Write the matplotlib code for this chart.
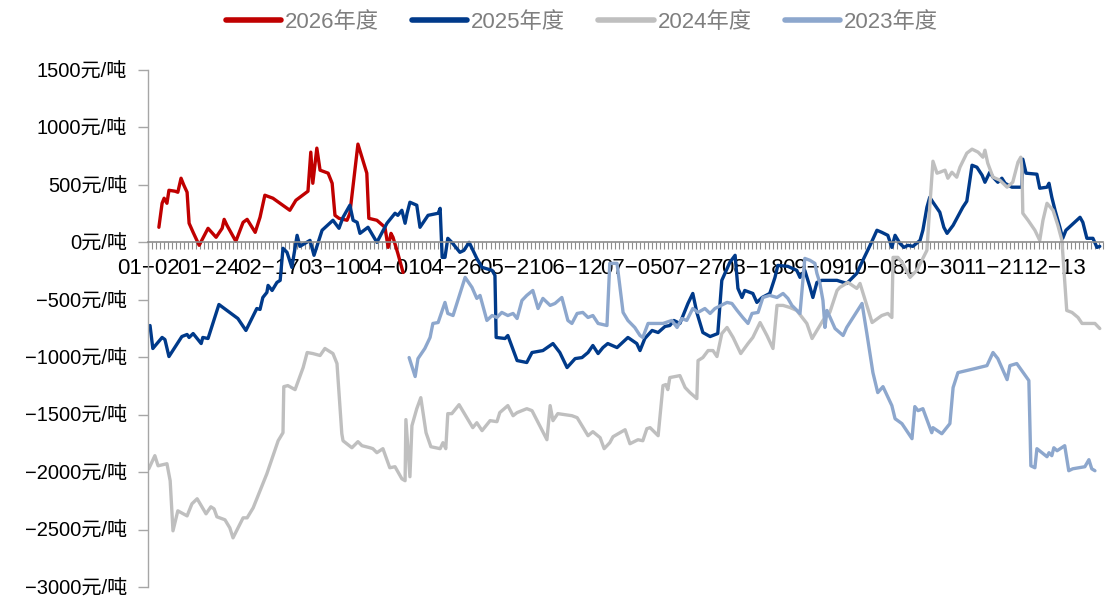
import matplotlib
matplotlib.use("Agg")
import matplotlib.pyplot as plt

# x positions are trading-day indices (0 = 01-02); values in 元/吨
tick_labels = ["01-02", "01-24", "02-17", "03-10", "04-01", "04-26", "05-21", "06-12",
               "07-05", "07-27", "08-18", "09-09", "10-08", "10-30", "11-21", "12-13"]
tick_step = 15
n_days = 238

series_names = ["2026年度", "2025年度", "2024年度", "2023年度"]

s2026 = [(2.7,131),(3.5,340),(4.0,384),(4.7,340),(5.2,453),(6.7,445),(7.4,436),(8.2,558),(8.9,497),
         (9.7,436),(10.2,166),(11.2,87),(12.7,-26),(14.9,122),(16.9,44),(18.4,122),(18.9,200),(19.6,148),
         (21.8,9),(23.6,174),(24.6,200),(26.6,87),(27.8,218),(29.0,410),(31.0,384),(35.2,279),(36.7,366),
         (39.7,445),(40.4,785),(40.9,514),(41.9,820),(42.7,628),(44.7,602),(45.7,514),(46.4,235),(47.4,209),
         (49.4,192),(50.1,253),(52.1,855),(54.3,602),(54.8,209),(56.8,192),(58.8,131),(59.6,-44),(60.3,78),
         (60.8,44),(62.0,-96),(63.3,-262)]

s2025 = [(0.5,-724),(1.2,-924),(3.5,-828),(4.2,-846),(5.2,-994),(8.4,-820),(9.7,-802),(10.2,-828),(11.2,-794),
         (13.2,-881),(13.6,-828),(14.9,-837),(17.6,-541),(22.3,-663),(24.3,-767),(27.0,-576),(27.8,-584),
         (28.5,-480),(29.5,-436),(29.8,-375),(30.8,-419),(32.0,-349),(32.8,-331),(33.5,-52),(34.5,-87),
         (35.7,-218),(37.0,61),(37.7,-35),(40.2,17),(41.2,-113),(43.2,105),(45.9,192),(47.4,122),(48.4,218),
         (50.1,323),(50.9,192),(51.9,174),(52.6,78),(54.6,131),(56.8,0),(59.3,166),(61.3,253),(62.0,235),
         (63.0,279),(63.8,166),(64.3,253),(65.0,349),(66.7,323),(67.5,131),(69.5,235),(72.0,253),(72.5,296),
         (73.0,-131),(73.7,-131),(74.4,35),(75.4,0),(77.4,-87),(78.4,-70),(79.7,0),(81.6,-140),(82.9,-218),
         (85.4,-244),(86.1,-288),(86.4,-828),(88.6,-837),(89.3,-811),(91.6,-1029),(94.0,-1046),(95.3,-959),
         (98.0,-942),(100.5,-881),(102.2,-959),(104.0,-1090),(106.0,-1012),(107.7,-1003),(109.2,-959),
         (110.4,-898),(111.7,-968),(112.9,-916),(114.1,-881),(116.4,-916),(119.1,-828),(121.3,-881),
         (122.1,-942),(123.3,-837),(125.1,-767),(126.6,-785),(128.3,-732),(129.5,-724),(130.5,-680),
         (132.0,-706),(134.0,-532),(135.2,-445),(136.2,-610),(137.7,-785),(139.5,-820),(141.4,-794),
         (142.4,-331),(144.4,-174),(145.7,-113),(146.4,-401),(147.4,-480),(148.1,-419),(150.1,-445),
         (151.1,-523),(152.4,-480),(154.3,-445),(155.6,-305),(156.3,-201),(158.8,-209),(161.0,-244),
         (161.8,-305),(163.0,-244),(164.3,-392),(165.0,-480),(166.0,-349),(167.2,-331),(169.2,-331),
         (171.0,-331),(173.4,-358),(175.9,-270),(177.4,-157),(179.2,-26),(180.9,105),(182.1,87),(183.6,61),
         (184.6,-44),(185.4,61),(186.6,-9),(187.6,-44),(188.6,-26),(189.8,-35),(191.6,17),(192.3,105),
         (193.3,305),(194.0,392),(194.8,349),(196.5,262),(197.5,131),(198.3,78),(199.8,148),(202.2,305),
         (203.2,358),(204.5,671),(205.7,654),(207.0,584),(207.7,523),(208.9,610),(209.7,567),(210.9,523),
         (211.9,558),(212.7,514),(214.4,480),(216.9,480),(217.1,724),(217.9,602),(220.6,593),(221.3,471),
         (223.1,480),(223.6,514),(224.3,392),(225.1,279),(226.3,131),(227.0,35),(227.8,105),(231.3,218),
         (232.0,174),(233.0,35),(234.5,35),(235.5,-44),(236.2,-35)]

s2024 = [(0.2,-1971),(1.7,-1857),(2.5,-1945),(4.7,-1927),(5.5,-2075),(6.2,-2511),(7.4,-2337),(9.7,-2381),
         (10.9,-2276),(12.2,-2232),(14.4,-2363),(15.6,-2302),(16.4,-2320),(17.1,-2389),(19.1,-2415),
         (20.3,-2485),(21.1,-2572),(23.6,-2398),(24.6,-2398),(26.1,-2311),(29.5,-2014),(32.3,-1727),
         (33.5,-1657),(33.7,-1256),(34.7,-1247),(36.5,-1282),(38.5,-1090),(39.5,-959),(40.9,-968),(42.7,-985),
         (43.9,-924),(45.9,-968),(46.9,-1055),(48.1,-1666),(48.4,-1727),(50.6,-1788),(52.1,-1735),(53.1,-1770),
         (55.1,-1788),(55.8,-1796),(56.8,-1831),(58.3,-1796),(60.0,-1962),(61.3,-1953),(63.0,-2058),
         (63.8,-2075),(64.0,-1543),(65.0,-2040),(65.5,-1596),(66.7,-1448),(67.7,-1352),(69.0,-1657),
         (70.2,-1779),(72.5,-1796),(73.2,-1744),(73.9,-1796),(74.4,-1491),(75.4,-1491),(77.2,-1413),
         (80.6,-1613),(81.6,-1570),(82.9,-1639),(84.9,-1552),(86.6,-1561),(87.3,-1482),(89.3,-1421),
         (90.6,-1509),(91.6,-1482),(94.0,-1448),(95.3,-1465),(99.0,-1718),(99.8,-1421),(100.5,-1552),
         (101.7,-1491),(105.2,-1509),(106.5,-1526),(109.2,-1683),(110.4,-1648),(112.2,-1700),(113.2,-1796),
         (114.6,-1744),(115.4,-1692),(118.4,-1631),(119.6,-1753),(121.6,-1718),(122.8,-1727),(123.8,-1622),
         (124.6,-1613),(126.6,-1683),(127.8,-1247),(128.5,-1238),(129.0,-1282),(129.5,-1177),(132.0,-1160),
         (133.3,-1264),(134.5,-1308),(136.2,-1360),(136.5,-1029),(137.7,-1003),(139.0,-942),(140.2,-942),
         (141.2,-994),(142.4,-794),(143.7,-741),(145.2,-828),(147.1,-968),(148.9,-881),(150.1,-828),
         (151.9,-698),(153.6,-811),(155.1,-924),(156.1,-549),(157.6,-549),(159.3,-567),(161.0,-593),
         (163.5,-706),(164.8,-837),(166.0,-767),(167.5,-680),(169.2,-610),(171.0,-419),(171.7,-392),
         (173.7,-349),(175.9,-401),(176.7,-358),(178.4,-549),(179.7,-698),(180.4,-680),(182.1,-637),
         (183.6,-619),(184.6,-654),(184.9,-131),(186.1,-131),(187.3,-183),(189.1,-305),(190.8,-244),
         (192.3,-140),(193.3,-70),(194.0,305),(194.8,706),(195.8,602),(196.5,610),(197.8,628),(198.5,558),
         (199.5,610),(200.7,567),(201.5,654),(203.2,776),(204.5,811),(206.0,785),(207.2,741),(207.7,802),
         (208.4,689),(209.7,567),(211.4,541),(213.2,480),(214.6,523),(215.9,698),(216.6,741),(216.9,628),
         (217.1,253),(218.4,192),(220.1,105),(221.3,17),(222.1,192),(223.1,340),(224.6,279),(225.8,148),
         (226.8,17),(227.5,-331),(228.0,-593),(229.3,-610),(230.8,-654),(231.8,-706),(233.3,-706),
         (235.0,-706),(236.2,-750)]

s2023 = [(64.8,-1003),(66.3,-1168),(67.0,-1012),(68.7,-924),(70.0,-828),(70.7,-706),(72.0,-698),(73.7,-523),
         (74.4,-619),(75.7,-637),(78.7,-305),(80.4,-392),(81.6,-488),(82.4,-462),(84.1,-680),(85.4,-637),
         (86.6,-654),(87.8,-610),(89.3,-637),(90.6,-619),(91.6,-663),(92.8,-506),(94.0,-462),(95.5,-419),
         (96.8,-576),(98.0,-488),(99.8,-549),(101.0,-532),(102.7,-480),(104.2,-680),(105.2,-706),(106.5,-619),
         (107.9,-610),(109.2,-654),(110.4,-637),(111.7,-706),(113.9,-724),(114.6,-183),(115.4,-183),
         (116.4,-183),(117.9,-610),(119.1,-680),(120.8,-741),(122.1,-811),(122.8,-828),(124.1,-706),
         (126.3,-706),(127.8,-706),(130.0,-680),(131.3,-741),(132.5,-663),(133.7,-680),(135.2,-576),
         (136.5,-610),(138.2,-576),(139.5,-619),(140.7,-576),(143.7,-523),(144.9,-532),(146.2,-593),
         (147.6,-654),(148.9,-706),(149.9,-619),(151.4,-610),(152.6,-480),(154.3,-462),(156.1,-480),
         (157.6,-445),(158.8,-488),(159.8,-549),(161.8,-619),(163.0,-140),(164.3,-157),(165.5,-183),
         (166.0,-270),(166.7,-349),(167.5,-506),(168.0,-741),(168.5,-593),(170.5,-750),(172.5,-811),
         (173.4,-741),(177.2,-532),(178.4,-794),(179.9,-1134),(181.1,-1308),(182.4,-1256),(184.6,-1421),
         (185.4,-1535),(187.1,-1578),(189.6,-1709),(190.3,-1430),(191.1,-1465),(192.3,-1448),(194.5,-1657),
         (194.8,-1613),(197.0,-1666),(199.0,-1578),(199.8,-1264),(201.0,-1134),(205.2,-1099),(208.2,-1073),
         (209.7,-959),(210.9,-1012),(213.2,-1195),(213.9,-1073),(215.6,-1055),(218.6,-1203),(219.1,-1945),
         (220.1,-1962),(220.6,-1796),(223.1,-1866),(223.6,-1831),(224.3,-1857),(224.8,-1788),(225.6,-1814),
         (227.5,-1770),(228.5,-1988),(229.5,-1971),(232.5,-1953),(233.5,-1892),(234.2,-1971),(235.0,-1988)]

colors = ["#C00000", "#003A8A", "#BFBFBF", "#8DA7CD"]
y_ticks = list(range(-3000, 1501, 500))

cjk = ["Liberation Sans", "Noto Sans CJK SC", "DejaVu Sans"]
plt.rcParams["font.family"] = cjk

fig = plt.figure(figsize=(11.06, 5.99), dpi=100)
ax = fig.add_axes([148/1106, 1 - 587/599, (1103 - 148)/1106, (587 - 70)/599])

for name, data, c in zip(series_names, [s2026, s2025, s2024, s2023], colors):
    xs = [p[0] for p in data]
    ys = [p[1] for p in data]
    ax.plot(xs, ys, color=c, lw=2.4, label=name, solid_joinstyle="round", solid_capstyle="round")

ax.set_xlim(0, n_days - 1)
ax.set_ylim(-3000, 1500)

ax.spines["top"].set_visible(False)
ax.spines["right"].set_visible(False)
ax.spines["left"].set_color("#A6A6A6")
ax.spines["left"].set_linewidth(1.0)
ax.spines["bottom"].set_position(("data", 0))
ax.spines["bottom"].set_color("#8C8C8C")
ax.spines["bottom"].set_linewidth(1.2)

ax.set_yticks(y_ticks)
ax.set_yticklabels([f"{v}元/吨".replace("-", "−") for v in y_ticks], fontsize=14.5)
ax.tick_params(axis="y", direction="out", length=7, width=1, color="#A6A6A6", pad=8)

ax.set_xticks([i * tick_step for i in range(len(tick_labels))])
ax.set_xticklabels([t.replace("-", "−") for t in tick_labels], fontsize=16)
ax.set_xticks(range(n_days), minor=True)
ax.tick_params(axis="x", which="major", direction="out", length=5, width=0.8, color="#8C8C8C", pad=6)
ax.tick_params(axis="x", which="minor", direction="out", length=5, width=0.8, color="#8C8C8C")

leg = fig.legend(loc="center", bbox_to_anchor=(0.526, 0.963), ncol=4, frameon=False,
                 fontsize=16, handlelength=2.48, handletextpad=0.18, columnspacing=1.5)
for t in leg.get_texts():
    t.set_color("#7F7F7F")
for h in leg.get_lines():
    h.set_linewidth(4)

fig.savefig("out.png", dpi=100)
